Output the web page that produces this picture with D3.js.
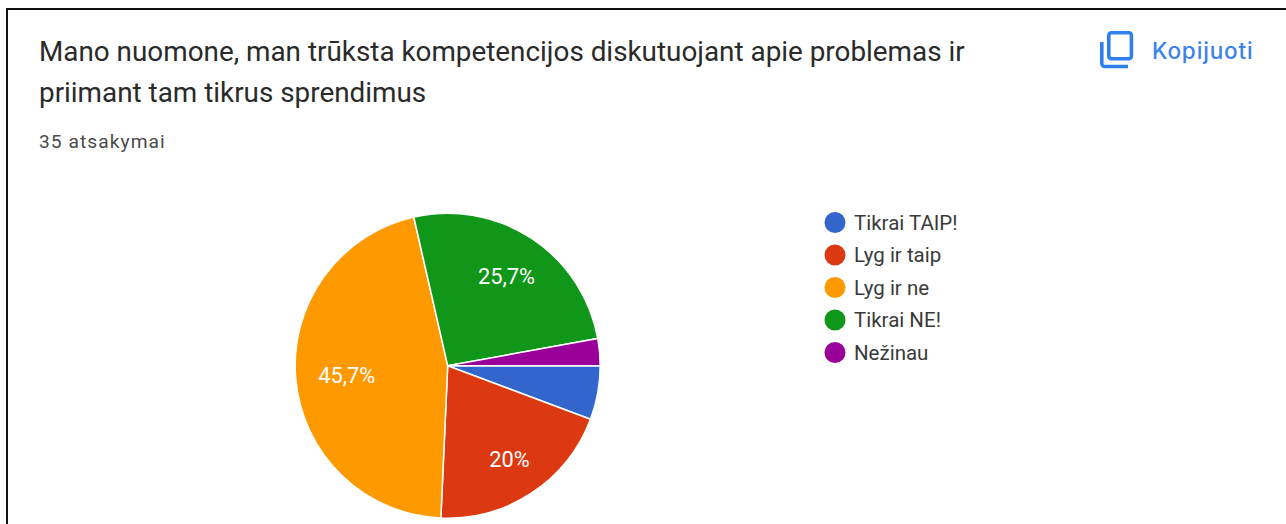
<!DOCTYPE html>
<html><head><meta charset="utf-8">
<script src="https://cdnjs.cloudflare.com/ajax/libs/d3/7.8.5/d3.min.js"></script>
<style>html,body{margin:0;padding:0;background:#fff;overflow:hidden}svg{display:block}</style>
</head><body><svg id="c" width="1286" height="524"></svg>
<script>
const categories=["Tikrai TAIP!","Lyg ir taip","Lyg ir ne","Tikrai NE!","Nežinau"];
const counts=[2,7,16,9,1];
const colors=["#3366cc","#dc3912","#ff9900","#109618","#990099"];
const sliceLabels=["","20%","45,7%","25,7%",""];
const titleLines=["Mano nuomone, man trūksta kompetencijos diskutuojant apie problemas ir","priimant tam tikrus sprendimus"];
const subtitle="35 atsakymai";
const svg=d3.select("#c");
svg.append("rect").attr("x",7).attr("y",9).attr("width",1290).attr("height",530).attr("fill","#fff").attr("stroke","#111").attr("stroke-width",2);
svg.selectAll("text.t").data(titleLines).join("text").attr("class","t").attr("x",39).attr("y",(d,i)=>61+i*41)
 .attr("font-family","Roboto").attr("font-size",27.85).attr("fill","#2a2a2a").text(d=>d);
svg.append("text").attr("x",39).attr("y",147.5).attr("font-family","Roboto").attr("font-size",19.2).attr("letter-spacing",1.05).attr("fill","#4a4a4a").text(subtitle);
// copy icon
const ic=svg.append("g").attr("fill","none").attr("stroke","#2f80ed").attr("stroke-width",3.6);
ic.append("rect").attr("x",1108.8).attr("y",32.8).attr("width",22.6).attr("height",26).attr("rx",2.5);
ic.append("path").attr("d","M1101.8 42V63.5a3 3 0 0 0 3 3H1128");
svg.append("text").attr("x",1152).attr("y",59).attr("font-family","Inter").attr("font-weight",500).attr("font-size",22.5).attr("letter-spacing",0.85).attr("fill","#3b82ea").text("Kopijuoti");
const cx=447.7,cy=365.7,R=152.5;
const pie=d3.pie().sort(null).value(d=>d).startAngle(Math.PI/2).endAngle(Math.PI*2.5);
const arcs=pie(counts);
const arc=d3.arc().innerRadius(0).outerRadius(R);
const labelFactor=[0,0.735,0.665,0.70,0];
const g=svg.append("g").attr("transform",`translate(${cx},${cy})`);
g.selectAll("path").data(arcs).join("path").attr("d",arc).attr("fill",(d,i)=>colors[i]).attr("stroke","#fff").attr("stroke-width",1.5);
g.selectAll("text").data(arcs).join("text").attr("transform",(d,i)=>{const r=R*labelFactor[i];return `translate(${d3.arc().innerRadius(r).outerRadius(r).centroid(d)})`;})
 .attr("text-anchor","middle").attr("dy","0.36em").attr("font-family","Roboto").attr("font-size",21.8).attr("fill","#fff").text((d,i)=>sliceLabels[i]);
const y=d3.scalePoint().domain(categories).range([222.5,352.5]);
const lg=svg.append("g").selectAll("g").data(categories).join("g").attr("transform",d=>`translate(0,${y(d)})`);
lg.append("circle").attr("cx",835).attr("r",10.5).attr("fill",(d,i)=>colors[i]);
lg.append("text").attr("x",854).attr("dy","0.36em").attr("font-family","Roboto").attr("font-size",20.5).attr("fill","#3a3a3a").text(d=>d);
</script></body></html>
